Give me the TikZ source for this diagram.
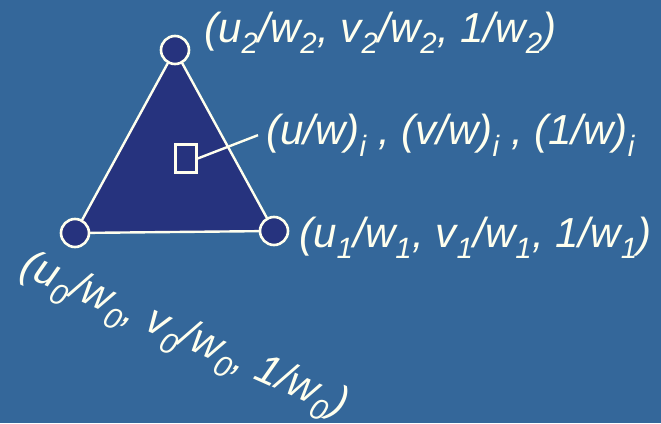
\documentclass[tikz,border=0pt]{standalone}
\usepackage{fontspec}
\setmainfont{Liberation Sans}
\usetikzlibrary{positioning}
\definecolor{bgBlue}{HTML}{34679A}
\definecolor{triNavy}{HTML}{26337E}
\definecolor{chalk}{HTML}{FFFFEE}
\newcommand{\lowix}[1]{\textsubscript{#1}}
\tikzset{
    vtx/.style={circle, draw=chalk, line width=2.6pt, fill=triNavy,
                minimum size=28pt, inner sep=0pt},
    edgeLine/.style={draw=chalk, line width=2.4pt, fill=triNavy},
    sampBox/.style={rectangle, draw=chalk, line width=2.4pt, fill=triNavy,
                    minimum width=21pt, minimum height=28pt, inner sep=0pt},
    coordLab/.style={text=chalk, font=\fontsize{42}{46}\selectfont\itshape,
                     inner sep=0pt}
}
\begin{document}
\begin{tikzpicture}[x=1pt, y=-1pt]
\fill[bgBlue] (0,0) rectangle (661,423);
\useasboundingbox (0,0) rectangle (661,423);

% ===== triangle =====
\coordinate (p0) at (75,233);
\coordinate (p1) at (274,231);
\coordinate (p2) at (175,50);
\draw[edgeLine] (p0) -- (p1) -- (p2) -- cycle;

\node[vtx] (v0) at (p0) {};
\node[vtx] (v1) at (p1) {};
\node[vtx] (v2) at (p2) {};

% sample inside
\node[sampBox] (samp) at (186,158.5) {};

% ===== labels =====
\node[coordLab, anchor=base west] (lab2) at (204,42)
      {(u\lowix{2}/w\lowix{2}, v\lowix{2}/w\lowix{2}, 1/w\lowix{2})};
\node[coordLab, anchor=base west] (labi) at (266,144)
      {(u/w)\lowix{i} , (v/w)\lowix{i} , (1/w)\lowix{i}};
\node[coordLab, anchor=base west] (lab1) at (299,247)
      {(u\lowix{1}/w\lowix{1}, v\lowix{1}/w\lowix{1}, 1/w\lowix{1})};
\node[coordLab, anchor=base west, rotate=-24] (lab0) at (18.5,274)
      {(u\lowix{0}/w\lowix{0}, v\lowix{0}/w\lowix{0}, 1/w\lowix{0})};

\coordinate[left=8pt of labi.west] (lead);
\draw[chalk, line width=2.4pt] (samp.east) -- (lead);

\end{tikzpicture}
\end{document}
